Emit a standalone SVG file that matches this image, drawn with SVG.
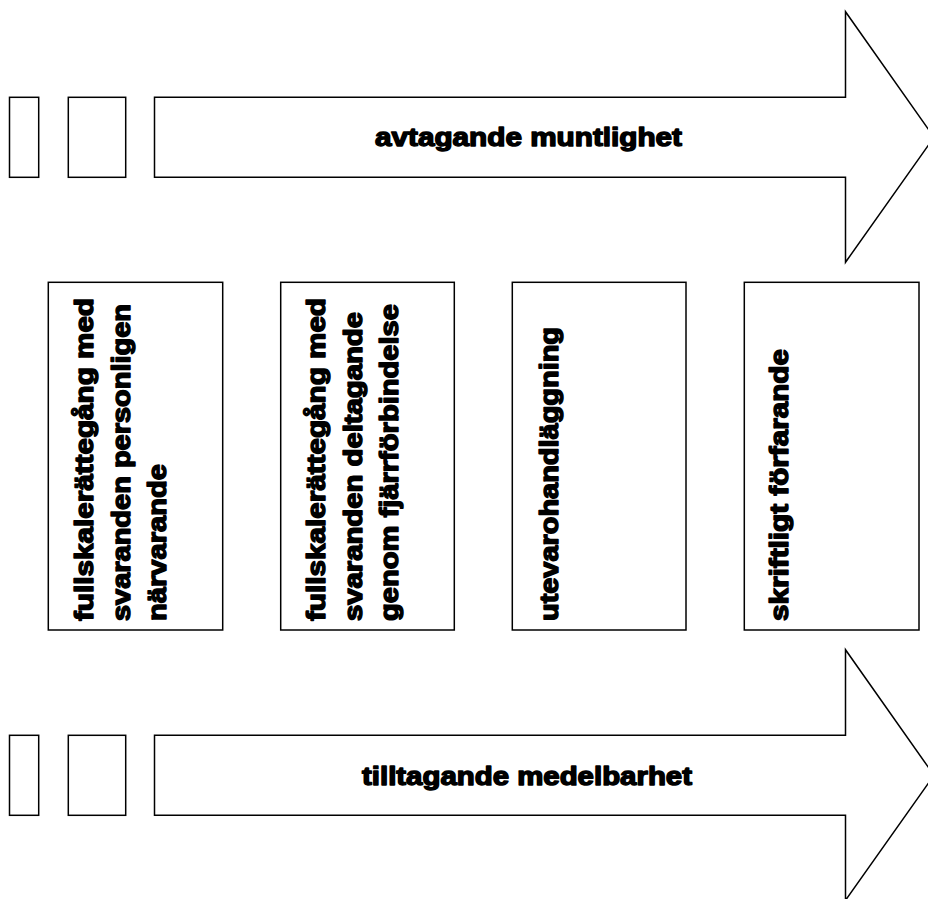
<svg xmlns="http://www.w3.org/2000/svg" width="928" height="899" viewBox="0 0 928 899">
  <style>
    .shape { fill: #ffffff; stroke: #000000; stroke-width: 1.5; stroke-linejoin: miter; }
    .lbl { font-family: "Liberation Sans", Arial, sans-serif; font-weight: bold; font-size: 25px; fill: #000000; stroke: #000000; stroke-width: 1.4; stroke-linejoin: round; }
  </style>
  <rect x="0" y="0" width="928" height="899" fill="#ffffff"/>

  <g id="arrow-top">
    <rect class="shape" x="9.5" y="97.3" width="29.2" height="80"/>
    <rect class="shape" x="68.3" y="97.3" width="57.4" height="80"/>
    <path class="shape" d="M154.5,97.3 H845.5 V11.7 L934,137.3 L845.5,262.3 V177.3 H154.5 Z"/>
    <text class="lbl" x="375" y="145.5" textLength="307" lengthAdjust="spacingAndGlyphs">avtagande muntlighet</text>
  </g>

  <g id="box-1">
    <rect class="shape" x="48.3" y="282.3" width="174.4" height="347.7"/>
    <text class="lbl" transform="translate(93,621) rotate(-90)" x="0" y="0" textLength="323" lengthAdjust="spacingAndGlyphs">fullskalerättegång med</text>
    <text class="lbl" transform="translate(129.5,621) rotate(-90)" x="0" y="0" textLength="317" lengthAdjust="spacingAndGlyphs">svaranden personligen</text>
    <text class="lbl" transform="translate(166,621) rotate(-90)" x="0" y="0" textLength="157" lengthAdjust="spacingAndGlyphs">närvarande</text>
  </g>

  <g id="box-2">
    <rect class="shape" x="280.7" y="282.3" width="173.6" height="347.7"/>
    <text class="lbl" transform="translate(325,621) rotate(-90)" x="0" y="0" textLength="323" lengthAdjust="spacingAndGlyphs">fullskalerättegång med</text>
    <text class="lbl" transform="translate(361.5,621) rotate(-90)" x="0" y="0" textLength="309" lengthAdjust="spacingAndGlyphs">svaranden deltagande</text>
    <text class="lbl" transform="translate(398,621) rotate(-90)" x="0" y="0" textLength="317" lengthAdjust="spacingAndGlyphs">genom fjärrförbindelse</text>
  </g>

  <g id="box-3">
    <rect class="shape" x="512.3" y="282.3" width="173.7" height="347.7"/>
    <text class="lbl" transform="translate(557.5,621) rotate(-90)" x="0" y="0" textLength="294" lengthAdjust="spacingAndGlyphs">utevarohandläggning</text>
  </g>

  <g id="box-4">
    <rect class="shape" x="744.3" y="282.3" width="174.7" height="347.7"/>
    <text class="lbl" transform="translate(788,621) rotate(-90)" x="0" y="0" textLength="272" lengthAdjust="spacingAndGlyphs">skriftligt förfarande</text>
  </g>

  <g id="arrow-bottom">
    <rect class="shape" x="9.5" y="735.3" width="29.2" height="80"/>
    <rect class="shape" x="68.3" y="735.3" width="57.4" height="80"/>
    <path class="shape" d="M154.5,735.3 H845.5 V649.7 L934,775.3 L845.5,900.3 V815.3 H154.5 Z"/>
    <text class="lbl" x="362" y="784.5" textLength="330" lengthAdjust="spacingAndGlyphs">tilltagande medelbarhet</text>
  </g>

  <g id="connectors"></g>
</svg>
